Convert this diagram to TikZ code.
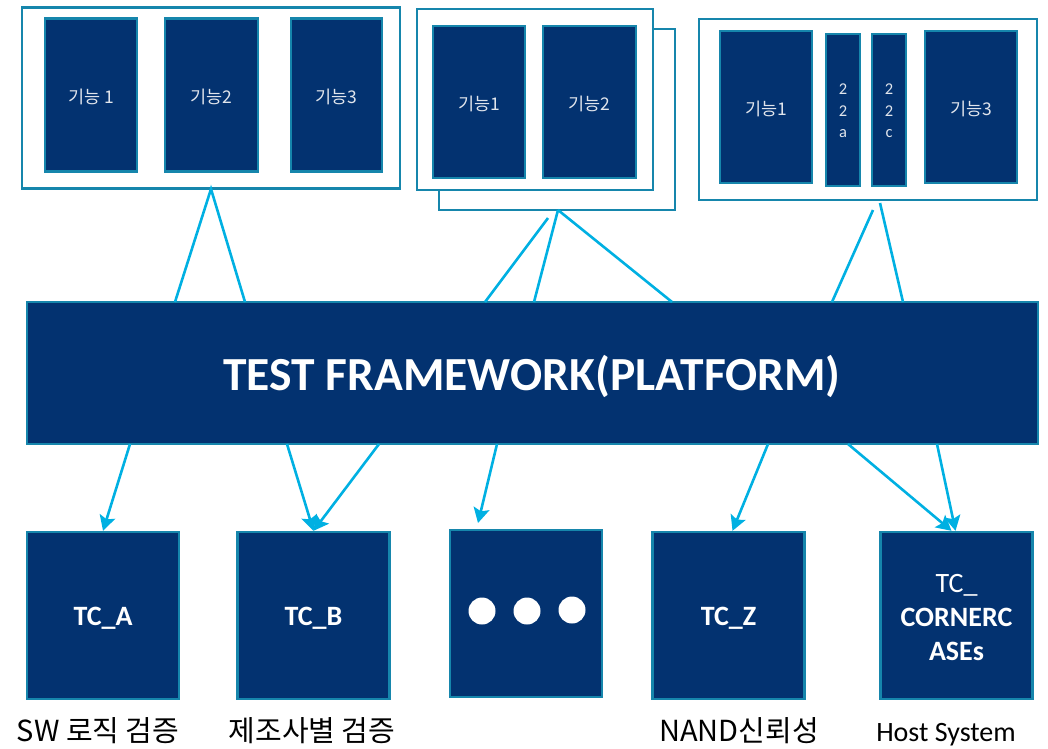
\documentclass[tikz,border=0pt]{standalone}
\usepackage{fontspec}
\setmainfont{Carlito}
\newfontfamily\kr{Noto Sans CJK KR}
\usetikzlibrary{arrows.meta}
\definecolor{navy}{RGB}{3,50,112}
\definecolor{teal}{RGB}{22,134,172}
\definecolor{cyanl}{RGB}{0,176,226}
\definecolor{lgray}{RGB}{225,229,236}
\begin{document}
\begin{tikzpicture}[x=1pt,y=-1pt,
  outerbox/.style={draw=teal,line width=2.6pt,fill=white,inner sep=0pt},
  fbox/.style={draw=teal,line width=2.4pt,fill=navy,inner sep=0pt},
  flbl/.style={text=lgray,font=\kr\fontsize{17.5}{20}\selectfont},
  nlbl/.style={text=lgray,font=\fontsize{16.5}{21.5}\selectfont,align=center},
  tcbox/.style={draw=teal,line width=2.4pt,fill=navy,inner sep=0pt,minimum width=152pt,minimum height=167pt},
  tclbl/.style={text=white,font=\bfseries\fontsize{28}{34}\selectfont,align=center},
  link/.style={draw=cyanl,line width=2.6pt},
  arr/.style={draw=cyanl,line width=2.6pt,-{Stealth[length=15pt,width=16pt,inset=3pt]}},
  lbl/.style={font=\kr\fontsize{29}{32}\selectfont,text=black}]
\useasboundingbox (0,0) rectangle (1048,748);
% group 1
\node[outerbox,minimum width=378pt,minimum height=181pt] (g1) at (211,98) {};
\node[fbox,minimum width=92pt,minimum height=153pt] (g1a) at (91,95) {};
\node[flbl] (t1a) at (91,97) {기능 1};
\node[fbox,minimum width=93pt,minimum height=153pt] (g1b) at (211.5,95) {};
\node[flbl] (t1b) at (211.5,97) {기능2};
\node[fbox,minimum width=91pt,minimum height=153pt] (g1c) at (336.5,95) {};
\node[flbl] (t1c) at (336.5,97) {기능3};
% group 2
\node[outerbox,minimum width=236pt,minimum height=181pt] (g2b) at (557,119.5) {};
\node[outerbox,minimum width=236pt,minimum height=181pt] (g2) at (535,99.5) {};
\node[fbox,minimum width=92pt,minimum height=152pt] (g2a) at (479,102) {};
\node[flbl] (t2a) at (479,104) {기능1};
\node[fbox,minimum width=93pt,minimum height=152pt] (g2c) at (589.5,102) {};
\node[flbl] (t2c) at (589.5,104) {기능2};
% group 3
\node[outerbox,minimum width=338pt,minimum height=181pt] (g3) at (868,109.5) {};
\node[fbox,minimum width=92pt,minimum height=152pt] (g3a) at (766,107) {};
\node[flbl] (t3a) at (766,109) {기능1};
\node[fbox,minimum width=34pt,minimum height=152pt] (g3b) at (843,110) {};
\node[nlbl] (t3b) at (843,111) {2\\2\\a};
\node[fbox,minimum width=34pt,minimum height=152pt] (g3c) at (889,110) {};
\node[nlbl] (t3c) at (889,111) {2\\2\\c};
\node[fbox,minimum width=92pt,minimum height=152pt] (g3d) at (971,107) {};
\node[flbl] (t3d) at (971,109) {기능3};
% framework
\node[draw=teal,line width=2.4pt,fill=navy,inner sep=0pt,minimum width=1011pt,minimum height=142pt] (fw) at (532.5,373) {};
\node[text=white,font=\bfseries\fontsize{47.5}{50}\selectfont] (fwt) at (532,376) {TEST FRAMEWORK(PLATFORM)};
% top link coordinates
\coordinate (a1) at (211,189);
\coordinate (f1) at (175,302);
\coordinate (f2) at (245,302);
\coordinate (a2) at (558,210);
\coordinate (a2s) at (548,218);
\coordinate (f3) at (485,302);
\coordinate (f4) at (534,302);
\coordinate (f5) at (672,302);
\coordinate (a3) at (873,210);
\coordinate (a3b) at (880,203);
\coordinate (f6) at (832,302);
\coordinate (f7) at (903,302);
\draw[link] (f1) -- (a1) -- (f2);
\draw[link] (a2s) -- (f3);
\draw[link] (a2) -- (f4);
\draw[link] (a2) -- (f5);
\draw[link] (a3) -- (f6);
\draw[link] (a3b) -- (f7);
% bottom boxes
\node[tcbox] (ta) at (103,615.5) {};
\node[tclbl] (tta) at (103,618) {TC\_A};
\node[tcbox] (tb) at (313.5,615.5) {};
\node[tclbl] (ttb) at (313.5,618) {TC\_B};
\node[tcbox] (td) at (526,613.5) {};
\fill[white] (482,611) circle (13.5);
\fill[white] (527,611) circle (13.5);
\fill[white] (572,610) circle (13.5);
\node[tcbox] (tz) at (728.5,615.5) {};
\node[tclbl] (ttz) at (728.5,618) {TC\_Z};
\node[tcbox] (tcc) at (956.5,615.5) {};
\node[tclbl] (ttc) at (956.5,618) {{\mdseries TC\_}\\CORNERC\\ASEs};
% arrows
\coordinate (s1) at (130,444);
\coordinate (s2) at (287,444);
\coordinate (s3) at (379,444);
\coordinate (s4) at (497,444);
\coordinate (e4) at (478,523);
\coordinate (s5) at (768,444);
\coordinate (s6) at (848,444);
\coordinate (s7) at (937,444);
\draw[arr] (s1) -- (ta.north);
\draw[arr] (s2) -- (tb.north);
\draw[arr] (s3) -- (tb.north);
\draw[arr] (s4) -- (e4);
\draw[arr] (s5) -- ([xshift=4pt]tz.north);
\draw[arr] (s6) -- ([xshift=-5pt]tcc.north);
\draw[arr] (s7) -- ([xshift=-1pt]tcc.north);
% labels
\node[lbl] (l1) at (98,731) {SW 로직 검증};
\node[lbl] (l2) at (312,731) {제조사별 검증};
\node[lbl] (l3) at (739,731) {NAND신뢰성};
\node[font=\fontsize{28}{30}\selectfont] (l4) at (946,735) {Host System};
\end{tikzpicture}
\end{document}
